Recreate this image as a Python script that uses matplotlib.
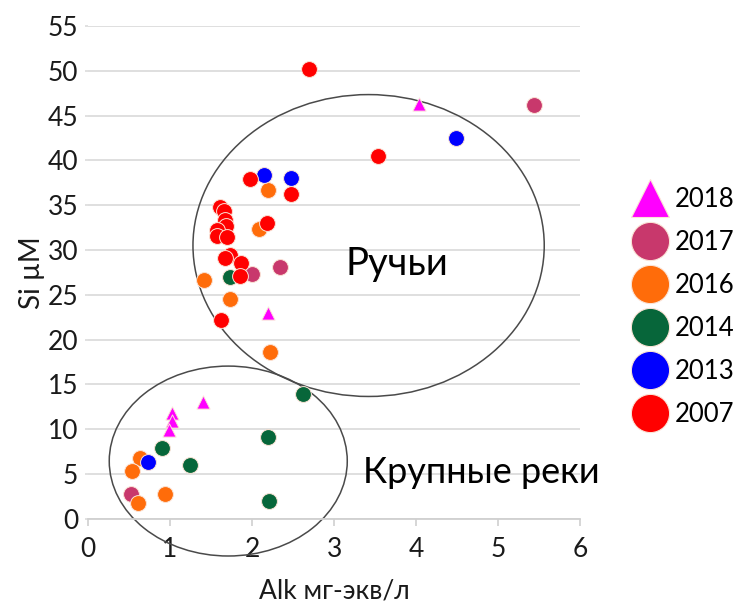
import matplotlib.pyplot as plt
from matplotlib.patches import Ellipse
from matplotlib.lines import Line2D

plt.rcParams['font.family'] = ['Lato', 'DejaVu Sans']

# Alk (мг-экв/л) and Si (µM) per sampling year
alk_2018 = [4.04, 2.19, 1.40, 1.03, 1.03, 0.99]
si_2018 = [46.3, 23.0, 13.0, 11.8, 10.9, 9.9]

alk_2017 = [5.43, 2.34, 2.00, 0.52]
si_2017 = [46.2, 28.1, 27.3, 2.8]

alk_2016 = [2.20, 2.08, 1.41, 1.73, 2.22, 0.63, 0.54, 0.94, 0.61]
si_2016 = [36.7, 32.4, 26.6, 24.5, 18.6, 6.8, 5.3, 2.8, 1.8]

alk_2014 = [1.73, 2.62, 2.19, 2.21, 0.90, 1.24]
si_2014 = [27.0, 13.9, 9.1, 2.0, 7.9, 6.0]

alk_2013 = [4.48, 2.15, 2.48, 0.73]
si_2013 = [42.5, 38.4, 38.0, 6.3]

alk_2007 = [2.69, 3.54, 1.98, 2.47, 2.18, 1.61, 1.66, 1.67, 1.68, 1.57, 1.57,
            1.70, 1.73, 1.67, 1.87, 1.85, 1.62]
si_2007 = [50.2, 40.5, 37.9, 36.2, 33.0, 34.8, 34.4, 33.3, 32.7, 32.2, 31.6,
           31.4, 29.4, 29.1, 28.6, 27.1, 22.2]

years = ['2018', '2017', '2016', '2014', '2013', '2007']
colors = ['#ff00ff', '#c8386c', '#ff6c0a', '#07663a', '#0000ff', '#ff0000']
markers = ['^', 'o', 'o', 'o', 'o', 'o']
series = [(alk_2018, si_2018), (alk_2017, si_2017), (alk_2016, si_2016),
          (alk_2014, si_2014), (alk_2013, si_2013), (alk_2007, si_2007)]

fig = plt.figure(figsize=(7.45, 6.06), dpi=100)
ax = fig.add_axes([0.118, 0.144, 0.661, 0.813])

for (x, y), year, c, m in zip(series, years, colors, markers):
    size = 90 if m == '^' else 130
    ax.scatter(x, y, s=size, c=c, marker=m, edgecolors='#fbe3d6',
               linewidths=0.7, label=year, zorder=3)

# groups outlined by ellipses
ax.add_patch(Ellipse((3.42, 30.5), 4.28, 33.7, fill=False, ec='#4a4a4a',
                     lw=1.1, zorder=2, clip_on=False))
ax.add_patch(Ellipse((1.71, 6.44), 2.90, 21.2, fill=False, ec='#4a4a4a',
                     lw=1.1, zorder=2, clip_on=False))
ax.text(3.77, 27.2, 'Ручьи', fontsize=27.5, ha='center', va='baseline')
ax.text(4.795, 3.95, 'Крупные реки', fontsize=26, ha='center', va='baseline')

ax.set_xlim(0, 6)
ax.set_ylim(0, 55)
ax.set_xticks(range(0, 7))
ax.set_yticks(range(0, 56, 5))
ax.yaxis.grid(True, color='#dcdcdc', lw=1.3)
ax.set_axisbelow(True)
for s in ['top', 'right', 'left']:
    ax.spines[s].set_visible(False)
ax.spines['bottom'].set_color('#d0d0d0')
ax.spines['bottom'].set_linewidth(1.3)
ax.tick_params(axis='x', colors='#d0d0d0', length=5, width=1.2,
               labelcolor='#1a1a1a', labelsize=19, pad=8)
ax.tick_params(axis='y', colors='#dcdcdc', length=2, width=1.2,
               labelcolor='#1a1a1a', labelsize=19, pad=5)

ax.set_xlabel('Alk мг-экв/л', fontsize=19, color='#1a1a1a', labelpad=12)
ax.set_ylabel('Si µM', fontsize=20, color='#1a1a1a', labelpad=2)

handles = [Line2D([], [], ls='none', marker=m, color=c, markersize=27 if m == '^' else 27.5,
                  markeredgecolor='#fbe3d6', markeredgewidth=0.8)
           for c, m in zip(colors, markers)]
leg = ax.legend(handles, years, loc='upper left', bbox_to_anchor=(0.847, 0.692),
                bbox_transform=fig.transFigure, frameon=False,
                fontsize=18.5, labelspacing=0.7, handlelength=1.5,
                handletextpad=0.22, borderpad=0, borderaxespad=0)

fig.savefig('out.png', dpi=100)
